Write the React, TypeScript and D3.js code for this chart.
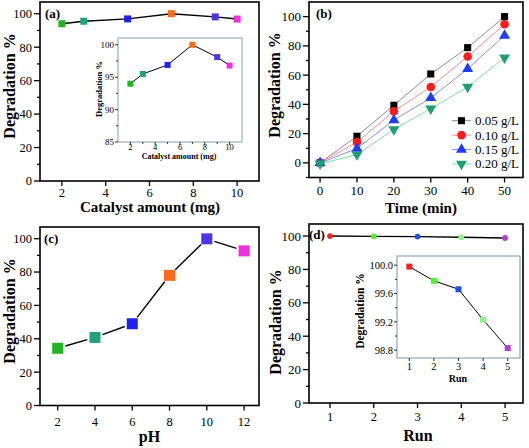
import React from "react";
import * as d3 from "d3";

const FONT = "'Liberation Serif','Times New Roman',serif";

// (a) catalyst amount
const catalystAmount = [2, 3, 5, 7, 9, 10];
const catalystDeg = [94, 95.5, 96.9, 100, 98.1, 96.8];
const pointColors = ["#22b522", "#23a07a", "#2020ee", "#ff6a1c", "#4a35e8", "#ee30dc"];
const xTicksA = [2, 4, 6, 8, 10];
const yTicksMain = [0, 20, 40, 60, 80, 100];
const yMinorMain = [10, 30, 50, 70, 90];
const yTicksInsetA = [85, 90, 95, 100];

// (b) time
const timeMin = [0, 10, 20, 30, 40, 50];
const deg005 = [0, 18.2, 39.4, 60.8, 78.8, 100];
const deg010 = [0, 14.2, 35.3, 51.9, 72.7, 94.8];
const deg015 = [0, 9.8, 29.3, 44.4, 64.3, 87.1];
const deg020 = [-0.6, 5.7, 22.9, 37, 52, 71.9];
const seriesLabels = ["0.05 g/L", "0.10 g/L", "0.15 g/L", "0.20 g/L"];
const seriesMarkerColors = ["#000000", "#ff1c1c", "#1f3cff", "#1e9e72"];
const seriesLineColors = ["#8c8c8c", "#ff8c9a", "#8c8cff", "#7fe0a8"];
const seriesShapes = ["square", "circle", "up", "down"];
const xTicksB = [0, 10, 20, 30, 40, 50];
const yTicksB = [0, 20, 40, 60, 80, 100];
const yMinorB = [-10, 10, 30, 50, 70, 90];

// (c) pH
const pHValues = [2, 4, 6, 8, 10, 12];
const pHDeg = [34.3, 40.8, 49, 78, 99.9, 92.7];
const xTicksC = [2, 4, 6, 8, 10, 12];

// (d) run
const runs = [1, 2, 3, 4, 5];
const runDeg = [99.98, 99.78, 99.66, 99.23, 98.83];
const runColors = ["#ff2222", "#55ee3a", "#2250ee", "#8fee8f", "#aa44cc"];
const yTicksInsetD = [98.8, 99.2, 99.6, 100.0];
const yMinorInsetD = [99.0, 99.4, 99.8];

type Sc = d3.ScaleLinear<number, number>;

function YAxis({ sc, x, ticks, minor = [], len = 6, mlen = 3, fs = 12.5, fmt = (v: number) => String(v), gap = 2, sw = 1.3 }: any) {
  return (
    <g>
      {ticks.map((t: number) => (
        <g key={"t" + t}>
          <line x1={x - len} x2={x} y1={sc(t)} y2={sc(t)} stroke="#000" strokeWidth={sw} />
          <text x={x - len - gap} y={sc(t)} dy="0.35em" textAnchor="end" fontSize={fs} fontFamily={FONT}>{fmt(t)}</text>
        </g>
      ))}
      {minor.map((t: number) => (
        <line key={"m" + t} x1={x - mlen} x2={x} y1={sc(t)} y2={sc(t)} stroke="#000" strokeWidth={sw} />
      ))}
    </g>
  );
}

function XAxis({ sc, y, ticks, minor = [], len = 5, mlen = 3, fs = 12.5, ly, sw = 1.3 }: any) {
  return (
    <g>
      {ticks.map((t: number) => (
        <g key={"t" + t}>
          <line x1={sc(t)} x2={sc(t)} y1={y} y2={y + len} stroke="#000" strokeWidth={sw} />
          <text x={sc(t)} y={ly} textAnchor="middle" fontSize={fs} fontFamily={FONT}>{t}</text>
        </g>
      ))}
      {minor.map((t: number) => (
        <line key={"m" + t} x1={sc(t)} x2={sc(t)} y1={y} y2={y + mlen} stroke="#000" strokeWidth={sw} />
      ))}
    </g>
  );
}

function Frame({ xs, ys, stroke = "#000", sw = 1.6, fill = "none" }: any) {
  const [x0, x1] = xs.range();
  const [y0, y1] = ys.range();
  return <rect x={x0} y={y1} width={x1 - x0} height={y0 - y1} fill={fill} stroke={stroke} strokeWidth={sw} />;
}

function YTitle({ x, y, fs = 16, children }: any) {
  return (
    <text transform={`translate(${x},${y}) rotate(-90)`} textAnchor="middle" fontSize={fs} fontWeight="bold" fontFamily={FONT}>
      {children}
    </text>
  );
}

function XTitle({ x, y, fs = 15, children }: any) {
  return (
    <text x={x} y={y} textAnchor="middle" fontSize={fs} fontWeight="bold" fontFamily={FONT}>
      {children}
    </text>
  );
}

function Squares({ xs, ys, xv, yv, colors, size }: any) {
  return (
    <g>
      {xv.map((v: number, i: number) => (
        <rect key={i} x={xs(v) - size / 2} y={ys(yv[i]) - size / 2} width={size} height={size} fill={colors[i]} />
      ))}
    </g>
  );
}

function markerPath(shape: string, size: number) {
  if (shape === "square") return d3.symbol(d3.symbolSquare, size)() as string;
  if (shape === "circle") return d3.symbol(d3.symbolCircle, size)() as string;
  return d3.symbol(d3.symbolTriangle, size)() as string;
}

export default function App() {
  // panel a
  const xA = d3.scaleLinear().domain([1, 11]).range([40, 259]);
  const yA = d3.scaleLinear().domain([0, 107]).range([181, 2]);
  const xAi = d3.scaleLinear().domain([1, 11]).range([118, 242]);
  const yAi = d3.scaleLinear().domain([85, 101.05]).range([142, 38]);
  // panel b
  const xB = d3.scaleLinear().domain([-3, 55]).range([309, 523]);
  const yB = d3.scaleLinear().domain([-10, 110]).range([177.5, 2]);
  // panel c
  const xC = d3.scaleLinear().domain([1.05, 12.8]).range([40, 259]);
  const yC = d3.scaleLinear().domain([0, 107]).range([405.5, 227]);
  // panel d
  const xD = d3.scaleLinear().domain([0.52, 5.41]).range([309, 523]);
  const yD = d3.scaleLinear().domain([0, 107.2]).range([403, 224]);
  const xDi = d3.scaleLinear().domain([0.5, 5.5]).range([397, 520]);
  const yDi = d3.scaleLinear().domain([98.69, 100.13]).range([358, 256]);

  const lineGen = (xs: Sc, ys: Sc, xv: number[], yv: number[]) =>
    d3.line<number>().x((v) => xs(v)).y((_, i) => ys(yv[i]))(xv) as string;

  const seriesB = [deg005, deg010, deg015, deg020];

  // panel c segments with gap around symbols
  const gap = 8;
  const segC = pHValues.slice(0, -1).map((v, i) => {
    const x1 = xC(v), y1 = yC(pHDeg[i]);
    const x2 = xC(pHValues[i + 1]), y2 = yC(pHDeg[i + 1]);
    const L = Math.hypot(x2 - x1, y2 - y1);
    const ux = (x2 - x1) / L, uy = (y2 - y1) / L;
    return { x1: x1 + ux * gap, y1: y1 + uy * gap, x2: x2 - ux * gap, y2: y2 - uy * gap };
  });

  return (
    <svg width={529} height={448} style={{ position: "absolute", left: 0, top: 0, background: "#fff" }}>
      <rect x={0} y={0} width={529} height={448} fill="#fff" />

      {/* ===== Panel (a) ===== */}
      <g>
        <YAxis sc={yA} x={40} ticks={yTicksMain} minor={yMinorMain} />
        <XAxis sc={xA} y={181} ticks={xTicksA} ly={197} />
        <path d={lineGen(xA, yA, catalystAmount, catalystDeg)} fill="none" stroke="#000" strokeWidth={1.4} />
        <Squares xs={xA} ys={yA} xv={catalystAmount} yv={catalystDeg} colors={pointColors} size={7} />
        <text x={45} y={18} fontSize={13} fontWeight="bold" fontFamily={FONT}>(a)</text>
        <Frame xs={xA} ys={yA} />
        <YTitle x={14.5} y={86}>Degradation %</YTitle>
        <XTitle x={150} y={212}>Catalyst amount (mg)</XTitle>

        {/* inset */}
        <Frame xs={xAi} ys={yAi} fill="#fff" stroke="#8e9aab" sw={1} />
        <YAxis sc={yAi} x={118} ticks={yTicksInsetA} minor={[87.5, 92.5, 97.5]} len={3} mlen={2} fs={9} gap={1} sw={0.8} />
        <XAxis sc={xAi} y={142} ticks={xTicksA} minor={[3, 5, 7, 9]} len={3} mlen={2} fs={8.5} ly={149.5} sw={0.8} />
        <path d={lineGen(xAi, yAi, catalystAmount, catalystDeg)} fill="none" stroke="#000" strokeWidth={1} />
        <Squares xs={xAi} ys={yAi} xv={catalystAmount} yv={catalystDeg} colors={pointColors} size={6} />
        <YTitle x={102} y={89} fs={8.5}>Degradation %</YTitle>
        <XTitle x={179} y={159} fs={8}>Catalyst amount (mg)</XTitle>
      </g>

      {/* ===== Panel (b) ===== */}
      <g>
        <YAxis sc={yB} x={309} ticks={yTicksB} minor={yMinorB} fs={13} />
        <XAxis sc={xB} y={177.5} ticks={xTicksB} ly={195} fs={13} />
        {seriesB.map((s, k) => (
          <path key={k} d={lineGen(xB, yB, timeMin, s)} fill="none" stroke={seriesLineColors[k]} strokeWidth={1} />
        ))}
        {seriesB.map((s, k) =>
          timeMin.map((t, i) => (
            <path
              key={k + "-" + i}
              d={markerPath(seriesShapes[k], seriesShapes[k] === "square" ? 50 : seriesShapes[k] === "circle" ? 58 : 52)}
              transform={`translate(${xB(t)},${yB(s[i])})${seriesShapes[k] === "down" ? " rotate(180)" : ""}`}
              fill={seriesMarkerColors[k]}
            />
          ))
        )}
        {seriesLabels.map((lab, k) => {
          const ly = 120.7 + k * 14.4;
          return (
            <g key={lab}>
              <line x1={452} x2={471} y1={ly} y2={ly} stroke={seriesLineColors[k]} strokeWidth={1} />
              <path
                d={markerPath(seriesShapes[k], seriesShapes[k] === "square" ? 50 : seriesShapes[k] === "circle" ? 58 : 52)}
                transform={`translate(461.5,${ly})${seriesShapes[k] === "down" ? " rotate(180)" : ""}`}
                fill={seriesMarkerColors[k]}
              />
              <text x={475} y={ly} dy="0.35em" fontSize={13} fontFamily={FONT}>{lab}</text>
            </g>
          );
        })}
        <text x={316} y={18} fontSize={13} fontWeight="bold" fontFamily={FONT}>(b)</text>
        <Frame xs={xB} ys={yB} />
        <YTitle x={279.5} y={85}>Degradation %</YTitle>
        <XTitle x={421} y={213}>Time (min)</XTitle>
      </g>

      {/* ===== Panel (c) ===== */}
      <g>
        <YAxis sc={yC} x={40} ticks={yTicksMain} minor={yMinorMain} />
        <XAxis sc={xC} y={405.5} ticks={xTicksC} ly={426} />
        {segC.map((s, i) => (
          <line key={i} x1={s.x1} y1={s.y1} x2={s.x2} y2={s.y2} stroke="#000" strokeWidth={1.4} />
        ))}
        <Squares xs={xC} ys={yC} xv={pHValues} yv={pHDeg} colors={pointColors} size={11} />
        <text x={44} y={243} fontSize={13} fontWeight="bold" fontFamily={FONT}>(c)</text>
        <Frame xs={xC} ys={yC} />
        <YTitle x={14.5} y={311}>Degradation %</YTitle>
        <XTitle x={149.5} y={442} fs={16}>pH</XTitle>
      </g>

      {/* ===== Panel (d) ===== */}
      <g>
        <YAxis sc={yD} x={309} ticks={yTicksMain} minor={yMinorMain} fs={13} />
        <XAxis sc={xD} y={403} ticks={runs} ly={420.5} />
        <path d={lineGen(xD, yD, runs, runDeg)} fill="none" stroke="#000" strokeWidth={1.4} />
        {runs.map((r, i) => (
          <circle key={i} cx={xD(r)} cy={yD(runDeg[i])} r={2.9} fill={runColors[i]} />
        ))}
        <text x={309} y={239} fontSize={13} fontWeight="bold" fontFamily={FONT}>(d)</text>
        <Frame xs={xD} ys={yD} />
        <YTitle x={281} y={322}>Degradation %</YTitle>
        <XTitle x={418} y={441} fs={16}>Run</XTitle>

        {/* inset */}
        <Frame xs={xDi} ys={yDi} fill="#fff" stroke="#8390a8" sw={1} />
        <YAxis sc={yDi} x={397} ticks={yTicksInsetD} minor={yMinorInsetD} len={3} mlen={2} fs={10.5} gap={1} sw={0.8} fmt={(v: number) => v.toFixed(1)} />
        <XAxis sc={xDi} y={358} ticks={runs} len={3} fs={10.5} ly={370} sw={0.8} />
        <path d={lineGen(xDi, yDi, runs, runDeg)} fill="none" stroke="#000" strokeWidth={1} />
        <Squares xs={xDi} ys={yDi} xv={runs} yv={runDeg} colors={runColors} size={6} />
        <YTitle x={364} y={311} fs={11.5}>Degradation %</YTitle>
        <XTitle x={458} y={381.5} fs={10}>Run</XTitle>
      </g>
    </svg>
  );
}
